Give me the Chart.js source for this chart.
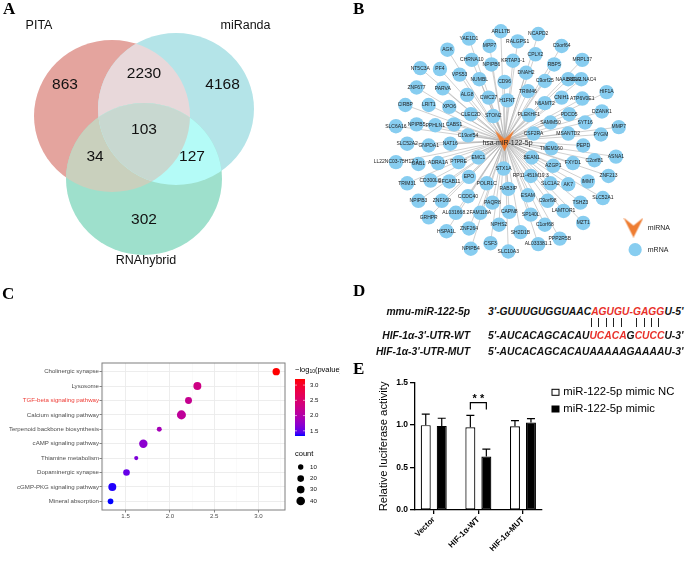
<!DOCTYPE html>
<html>
<head>
<meta charset="utf-8">
<script src="https://cdn.jsdelivr.net/npm/chart.js@4.4.1/dist/chart.umd.min.js"></script>
<style>
html,body{margin:0;padding:0;background:#fff;}
body{width:685px;height:563px;position:relative;overflow:hidden;font-family:'Liberation Sans',Arial,sans-serif;}
canvas{position:absolute;display:block;}
.pl{position:absolute;font-family:'Liberation Serif','Times New Roman',serif;font-weight:bold;font-size:17px;line-height:17px;color:#000;}
.seq{position:absolute;font-family:'Liberation Sans',Arial,sans-serif;font-weight:bold;font-style:italic;font-size:10.3px;line-height:12px;white-space:nowrap;color:#111;}
.red{color:#e8302a;}
.pc{position:relative;color:transparent;}
.pc i{position:absolute;left:1.5px;top:2px;width:0.9px;height:9px;background:#222;}
.tr{color:transparent;}
</style>
</head>
<body>
<canvas id="cA" width="340" height="280" style="left:0;top:0"></canvas>
<canvas id="cB" width="345" height="280" style="left:340px;top:0"></canvas>
<canvas id="cC" width="340" height="283" style="left:0;top:280px"></canvas>
<canvas id="cE" width="315" height="191" style="left:370px;top:372px"></canvas>
<div class="pl" style="left:3px;top:0">A</div>
<div class="pl" style="left:353px;top:0">B</div>
<div class="pl" style="left:2px;top:285px">C</div>
<div class="pl" style="left:353px;top:282px">D</div>
<div class="pl" style="left:353px;top:360px">E</div>
<div id="panelD"></div>
<script>
// ================= DATA =================
// Panel A: Venn
const vennSetNames = ['PITA', 'miRanda', 'RNAhybrid'];
const vennRegionKeys = ['100', '010', '001', '110', '101', '011', '111'];
const vennCounts = [863, 4168, 302, 2230, 34, 127, 103];

// Panel B: miRNA-mRNA network
const miRNAName = 'hsa-miR-122-5p';
const mRNANames = ['ARL17B','YAE1D1','MPP7','RALGPS1','NCAPD2','AGK','CHRNA10','NPIPB6','KRTAP3-1','CPLX2','C9orf64','MRPL37','RBP5','NT5C3A','PF4','VPS53','NUMBL','CD96','DNAH2','C9orf25','NAALADL2','B3GALNAC4','HIF1A','ZNF677','PARVA','ALG8','CWC27','H1FNT','TRIM46','CNIH1','ATP6V0E1','N6AMT2','DZANK1','CIRBP','LRIT1','XPO6','CLEC2D','STON2','PLEKHF1','PDCD5','SYT16','SAMM50','MMP7','SLC6A16','NPIPB5','PPHLN1','CABS1','C19orf54','CSF2RA','MSANTD2','PYGM','SLC52A2','GNPDA1','NAT16','TMEM160','PEPD','ASNA1','C2orf81','LL22NC03-75H12.2','GAB1','ADRA1A','PTPRE','EMC1','BEAN1','FXYD1','AZGP1','STX1A','ZNF213','TRIM31','CD300LG','EFCAB11','EPO','POLR1C','RP11-451M19.3','SLC1A2','AK7','IMMT','RAB3IP','SLC52A1','NPIPB3','ZNF169','CCDC40','ESAM','C9orf98','TSHZ3','PAQR8','LAMTOR1','CAPN8','AL031668.2','FAM118A','SP140L','GRHPR','C1orf68','MZT1','NPHS2','ZNF264','HSPA1L','SH2D1B','PPP2R5B','CSF3','NPIPB4','AL033381.1','SLC10A3'];
const mRNAX = [500,466,488,518,540,443,469,490,513,537,565,587,557,414,435,456,477,504,527,547,572,586,613,410,438,464,487,507,529,565,587,547,608,398,423,445,468,492,530,573,590,553,626,388,410,430,450,465,535,572,607,400,423,446,554,588,623,600,388,412,433,455,476,533,577,556,503,615,400,425,445,466,485,532,553,572,593,508,609,412,437,465,529,550,585,491,567,509,452,478,532,423,547,588,498,466,442,521,563,489,468,540,508];
const mRNAY = [22,30,38,33,25,42,53,58,54,47,38,53,58,62,63,69,74,77,67,76,74,74,88,83,84,91,94,97,87,94,95,100,109,102,102,104,112,114,113,112,121,121,126,125,123,124,123,135,133,133,134,144,146,144,149,146,158,162,164,166,165,164,159,159,165,168,171,179,187,184,185,180,187,179,187,188,185,193,203,206,206,201,200,206,208,208,217,218,219,219,221,224,232,230,232,236,239,240,247,252,258,253,261];
const miRNAX = [504];
const miRNAY = [141];

// Panel C: KEGG enrichment
const pathways = ['Cholinergic synapse','Lysosome','TGF-beta signaling pathway','Calcium signaling pathway','Terpenoid backbone biosynthesis','cAMP signaling pathway','Thiamine metabolism','Dopaminergic synapse','cGMP-PKG signaling pathway','Mineral absorption'];
const pathwayLogP = [3.20, 2.31, 2.21, 2.13, 1.88, 1.70, 1.62, 1.51, 1.35, 1.33];
const pathwayCount = [27, 33, 23, 45, 7, 38, 2, 20, 33, 12];
const highlightPathway = 'TGF-beta signaling pathway';
const xMajorTicksC = [1.5, 2.0, 2.5, 3.0];
const xMinorTicksC = [1.25, 1.75, 2.25, 2.75, 3.25];
const colorbarTicks = [3.0, 2.5, 2.0, 1.5];
const countLegend = [10, 20, 30, 40];

// Panel D: sequences
const seqLabels = ['mmu-miR-122-5p', "HIF-1\u03b1-3'-UTR-WT", "HIF-1\u03b1-3'-UTR-MUT"];
const seqTexts = ["3'-GUUUGUGGUAAC[AGUGU-GAGG]U-5'", "5'-AUCACAGCACAU[UCACA]G[CUCC]U-3'", "5'-AUCACAGCACAUAAAAAGAAAAU-3'"];
const pairMask = "               ||||| ||||     ";

// Panel E: luciferase
const groups = ['Vector', 'HIF-1\u03b1-WT', 'HIF-1\u03b1-MUT'];
const seriesNames = ['miR-122-5p mimic NC', 'miR-122-5p mimic'];
const ncMean = [1.00, 0.975, 0.987];
const ncSD = [0.129, 0.141, 0.067];
const mimicMean = [0.991, 0.631, 1.030];
const mimicSD = [0.090, 0.086, 0.047];
const sigGroup = 1;
const sigLabel = '* *';

// ================= STYLE / LAYOUT =================
const FONT = "'Liberation Sans', Arial, sans-serif";
Chart.defaults.font.family = FONT;
Chart.defaults.animation = false;

// Venn geometry (page px)
const vennCX = [112, 176, 144], vennCY = [116, 109, 179], vennRX = 78, vennRY = 76;
const vennColors = {'100':'#e4a49e','010':'#b4e4e8','001':'#9ee0cc','110':'#e8d8da','101':'#c9d0bd','011':'#b4fbf7','111':'#c8d8d0'};
const vennLabelX = [65, 222.6, 144, 144, 95, 192, 144];
const vennLabelY = [85, 85, 220, 74, 157, 157, 130];
const vennSetLabelX = [39, 245.5, 146], vennSetLabelY = [26, 26, 261];

// ================= PANEL A =================
const vennPlugin = {
  id: 'venn',
  beforeDatasetsDraw(chart) {
    const ctx = chart.ctx, xs = chart.scales.x, ys = chart.scales.y;
    const path = i => {
      const cx = xs.getPixelForValue(vennCX[i]), cy = ys.getPixelForValue(vennCY[i]);
      const rx = Math.abs(xs.getPixelForValue(vennCX[i] + vennRX) - cx);
      const ry = Math.abs(ys.getPixelForValue(vennCY[i] + vennRY) - cy);
      ctx.beginPath(); ctx.ellipse(cx, cy, rx, ry, 0, 0, Math.PI * 2);
    };
    const fillIn = (clips, i, color) => {
      ctx.save();
      clips.forEach(c => { path(c); ctx.clip(); });
      path(i); ctx.fillStyle = color; ctx.fill();
      ctx.restore();
    };
    fillIn([], 0, vennColors['100']);
    fillIn([], 1, vennColors['010']);
    fillIn([], 2, vennColors['001']);
    fillIn([0], 1, vennColors['110']);
    fillIn([0], 2, vennColors['101']);
    fillIn([1], 2, vennColors['011']);
    fillIn([0, 1], 2, vennColors['111']);
    ctx.save();
    ctx.fillStyle = '#111'; ctx.textAlign = 'center'; ctx.textBaseline = 'middle';
    ctx.font = '15.5px ' + FONT;
    vennCounts.forEach((c, i) => ctx.fillText(String(c), xs.getPixelForValue(vennLabelX[i]), ys.getPixelForValue(vennLabelY[i])));
    ctx.font = '12.5px ' + FONT;
    vennSetNames.forEach((n, i) => ctx.fillText(n, xs.getPixelForValue(vennSetLabelX[i]), ys.getPixelForValue(vennSetLabelY[i])));
    ctx.restore();
  }
};
new Chart(document.getElementById('cA'), {
  type: 'scatter',
  data: { datasets: [{ data: vennSetNames.map((n, i) => ({ x: vennCX[i], y: vennCY[i] })), pointRadius: 0 }] },
  options: {
    responsive: false, events: [],
    layout: { padding: 0 },
    plugins: { legend: { display: false }, tooltip: { enabled: false } },
    scales: { x: { type: 'linear', min: 0, max: 340, display: false }, y: { type: 'linear', min: 0, max: 280, reverse: true, display: false } }
  },
  plugins: [vennPlugin]
});

// ================= PANEL B =================
function makeChevron(w, h, color) {
  const c = document.createElement('canvas'); c.width = w; c.height = h;
  const g = c.getContext('2d'); g.fillStyle = color;
  g.beginPath(); g.moveTo(0, 0); g.lineTo(w / 2, h * 0.4); g.lineTo(w, 0); g.lineTo(w / 2, h); g.closePath(); g.fill();
  return c;
}
const ORANGE = '#ee7d32', NODE = '#87cdf0';
const chevronBig = makeChevron(19, 21, ORANGE);
const chevronLeg = makeChevron(20, 20, ORANGE);
const netPlugin = {
  id: 'net',
  beforeDatasetsDraw(chart) {
    const ctx = chart.ctx;
    const c = chart.getDatasetMeta(1).data[0];
    ctx.save(); ctx.strokeStyle = '#a8a8a8'; ctx.lineWidth = 0.55;
    chart.getDatasetMeta(0).data.forEach(p => { ctx.beginPath(); ctx.moveTo(c.x, c.y); ctx.lineTo(p.x, p.y); ctx.stroke(); });
    ctx.restore();
  },
  afterDatasetsDraw(chart) {
    const ctx = chart.ctx;
    ctx.save(); ctx.fillStyle = '#222'; ctx.textAlign = 'center'; ctx.textBaseline = 'middle';
    ctx.font = '5px ' + FONT;
    chart.getDatasetMeta(0).data.forEach((p, i) => ctx.fillText(mRNANames[i], p.x, p.y));
    const c = chart.getDatasetMeta(1).data[0];
    ctx.font = '7px ' + FONT;
    ctx.fillText(miRNAName, c.x + 3, c.y + 2.5);
    // legend
    const xs = chart.scales.x, ys = chart.scales.y;
    ctx.drawImage(chevronLeg, xs.getPixelForValue(641.7) - 10, ys.getPixelForValue(235) - 10);
    ctx.beginPath(); ctx.arc(xs.getPixelForValue(643.5), ys.getPixelForValue(259), 6.6, 0, Math.PI * 2); ctx.fillStyle = NODE; ctx.fill();
    ctx.fillStyle = '#222'; ctx.textAlign = 'left'; ctx.font = '7px ' + FONT;
    ctx.fillText('miRNA', xs.getPixelForValue(657), ys.getPixelForValue(236));
    ctx.fillText('mRNA', xs.getPixelForValue(657), ys.getPixelForValue(259.5));
    ctx.restore();
  }
};
new Chart(document.getElementById('cB'), {
  type: 'scatter',
  data: { datasets: [
    { data: mRNANames.map((n, i) => ({ x: mRNAX[i], y: mRNAY[i] })), pointRadius: 7.2, backgroundColor: NODE, borderWidth: 0 },
    { data: miRNAX.map((x, i) => ({ x: x, y: miRNAY[i] })), pointStyle: chevronBig, pointRadius: 10 }
  ] },
  options: {
    responsive: false, events: [],
    layout: { padding: 0 },
    plugins: { legend: { display: false }, tooltip: { enabled: false } },
    scales: { x: { type: 'linear', min: 340, max: 685, display: false }, y: { type: 'linear', min: 0, max: 280, reverse: true, display: false } }
  },
  plugins: [netPlugin]
});

// ================= PANEL C =================
function srgb2lin(c) { c /= 255; return c <= 0.04045 ? c / 12.92 : Math.pow((c + 0.055) / 1.055, 2.4); }
function lin2srgb(c) { c = c <= 0.0031308 ? 12.92 * c : 1.055 * Math.pow(c, 1 / 2.4) - 0.055; return Math.round(Math.max(0, Math.min(1, c)) * 255); }
const WP = [0.95047, 1, 1.08883];
function fL(t) { return t > 0.008856 ? Math.cbrt(t) : 7.787 * t + 16 / 116; }
function fLi(t) { const t3 = t * t * t; return t3 > 0.008856 ? t3 : (t - 16 / 116) / 7.787; }
function rgb2lab(rgb) {
  const [r, g, b] = rgb.map(srgb2lin);
  const X = (0.4124 * r + 0.3576 * g + 0.1805 * b) / WP[0], Y = (0.2126 * r + 0.7152 * g + 0.0722 * b) / WP[1], Z = (0.0193 * r + 0.1192 * g + 0.9505 * b) / WP[2];
  const fx = fL(X), fy = fL(Y), fz = fL(Z);
  return [116 * fy - 16, 500 * (fx - fy), 200 * (fy - fz)];
}
function lab2rgb([L, a, b]) {
  const fy = (L + 16) / 116, fx = fy + a / 500, fz = fy - b / 200;
  const X = WP[0] * fLi(fx), Y = WP[1] * fLi(fy), Z = WP[2] * fLi(fz);
  return [lin2srgb(3.2406 * X - 1.5372 * Y - 0.4986 * Z), lin2srgb(-0.9689 * X + 1.8758 * Y + 0.0415 * Z), lin2srgb(0.0557 * X - 0.2040 * Y + 1.0570 * Z)];
}
const LAB_LO = rgb2lab([0, 0, 255]), LAB_HI = rgb2lab([255, 0, 0]);
const cMin = Math.min(...pathwayLogP), cMax = Math.max(...pathwayLogP);
function gradColor(v) {
  const t = Math.max(0, Math.min(1, (v - cMin) / (cMax - cMin)));
  const c = lab2rgb(LAB_LO.map((l, i) => l + (LAB_HI[i] - l) * t));
  return 'rgb(' + c.join(',') + ')';
}
const sizeFor = c => Math.sqrt(3.57 + 0.373 * c);
const isMajor = v => xMajorTicksC.some(m => Math.abs(m - v) < 1e-6);
const AXC = '#4d4d4d';
const legendC = {
  id: 'legendC',
  afterDraw(chart) {
    const ctx = chart.ctx, ca = chart.chartArea;
    ctx.save();
    ctx.strokeStyle = '#7f7f7f'; ctx.lineWidth = 1;
    ctx.strokeRect(ca.left, ca.top, ca.right - ca.left, ca.bottom - ca.top);
    // title
    ctx.fillStyle = '#000'; ctx.textBaseline = 'middle'; ctx.textAlign = 'left';
    let x = 295, y = 90;
    ctx.font = '7.5px ' + FONT; ctx.fillText('\u2212log', x, y); let w = ctx.measureText('\u2212log').width;
    ctx.font = '5px ' + FONT; ctx.fillText('10', x + w, y + 2); w += ctx.measureText('10').width;
    ctx.font = '7.5px ' + FONT; ctx.fillText('(pvalue)', x + w, y);
    // colorbar
    const bx = 295, bw = 10, bTop = 99, bBot = 156;
    const grad = ctx.createLinearGradient(0, bBot, 0, bTop);
    for (let k = 0; k <= 20; k++) grad.addColorStop(k / 20, gradColor(cMin + (cMax - cMin) * k / 20));
    ctx.fillStyle = grad; ctx.fillRect(bx, bTop, bw, bBot - bTop);
    ctx.font = '6.1px ' + FONT; ctx.fillStyle = '#111';
    colorbarTicks.forEach(v => {
      const yy = bBot - (v - cMin) / (cMax - cMin) * (bBot - bTop);
      ctx.strokeStyle = '#fff'; ctx.lineWidth = 0.6;
      ctx.beginPath(); ctx.moveTo(bx, yy); ctx.lineTo(bx + 2, yy); ctx.moveTo(bx + bw - 2, yy); ctx.lineTo(bx + bw, yy); ctx.stroke();
      ctx.fillText(v.toFixed(1), 310, yy);
    });
    // count legend
    ctx.font = '7.5px ' + FONT; ctx.fillStyle = '#000';
    ctx.fillText('count', 295, 174);
    const ly = [187, 198.6, 209.6, 221];
    ctx.font = '6.1px ' + FONT;
    countLegend.forEach((c, i) => {
      ctx.beginPath(); ctx.arc(300.7, ly[i], sizeFor(c), 0, Math.PI * 2); ctx.fillStyle = '#000'; ctx.fill();
      ctx.fillStyle = '#111'; ctx.fillText(String(c), 310, ly[i]);
    });
    ctx.restore();
  }
};
new Chart(document.getElementById('cC'), {
  type: 'bubble',
  data: { datasets: [{
    data: pathways.map((p, i) => ({ x: pathwayLogP[i], y: i, r: sizeFor(pathwayCount[i]) })),
    backgroundColor: pathwayLogP.map(gradColor), borderWidth: 0
  }] },
  options: {
    responsive: false, events: [],
    layout: { padding: { left: 0, top: 83, right: 55, bottom: 33 } },
    plugins: { legend: { display: false }, tooltip: { enabled: false } },
    scales: {
      x: {
        type: 'linear', min: 1.2336, max: 3.299, offset: false,
        afterBuildTicks: s => { s.ticks = xMajorTicksC.concat(xMinorTicksC).sort((a, b) => a - b).map(v => ({ value: v })); },
        afterFit: s => { s.height = 20; },
        ticks: { autoSkip: false, maxRotation: 0, padding: 0, color: AXC, font: { size: 6.1 }, callback: v => isMajor(v) ? v.toFixed(1) : '' },
        grid: { offset: false, color: c => isMajor(c.tick.value) ? '#ebebeb' : '#f5f5f5', lineWidth: c => isMajor(c.tick.value) ? 0.9 : 0.5,
                tickColor: c => isMajor(c.tick.value) ? '#333' : 'rgba(0,0,0,0)', tickLength: 2.5, tickWidth: 0.6 },
        border: { display: false }
      },
      y: {
        type: 'linear', min: -0.6, max: 9.6, reverse: true, offset: false,
        afterBuildTicks: s => { s.ticks = pathways.map((p, i) => ({ value: i })); },
        afterFit: s => { s.width = 102; },
        ticks: { autoSkip: false, padding: 0.5, font: { size: 6.1 }, callback: v => pathways[v],
                 color: c => pathways[c.tick.value] === highlightPathway ? '#ee3b34' : AXC },
        grid: { color: '#ebebeb', lineWidth: 0.9, tickColor: '#333', tickLength: 2.5, tickWidth: 0.6 },
        border: { display: false }
      }
    }
  },
  plugins: [legendC]
});

// ================= PANEL D =================
(function () {
  const host = document.getElementById('panelD');
  const rowTop = [305.8, 329.8, 345.8];
  const fmt = s => s.replace(/\[([^\]]*)\]/g, '<span class="red">$1</span>');
  seqLabels.forEach((l, i) => {
    const a = document.createElement('div'); a.className = 'seq'; a.style.right = '215px'; a.style.top = rowTop[i] + 'px'; a.textContent = l; host.appendChild(a);
    const b = document.createElement('div'); b.className = 'seq'; b.style.left = '488px'; b.style.top = rowTop[i] + 'px'; b.innerHTML = fmt(seqTexts[i]); host.appendChild(b);
  });
  const plain = seqTexts[1].replace(/[\[\]]/g, '');
  const p = document.createElement('div'); p.className = 'seq'; p.style.left = '488px'; p.style.top = '316px';
  let html = '';
  for (let k = 0; k < plain.length; k++) {
    const ch = plain[k];
    html += pairMask[k] === '|' ? '<span class="pc">' + ch + '<i></i></span>' : '<span class="tr">' + ch + '</span>';
  }
  p.innerHTML = html; host.appendChild(p);
})();

// ================= PANEL E =================
const errPlugin = {
  id: 'err',
  afterDatasetsDraw(chart) {
    const ctx = chart.ctx, ys = chart.scales.y;
    ctx.save(); ctx.strokeStyle = '#000'; ctx.lineWidth = 1.2;
    [[ncMean, ncSD], [mimicMean, mimicSD]].forEach(([m, s], d) => {
      chart.getDatasetMeta(d).data.forEach((bar, i) => {
        const x = bar.x, y0 = ys.getPixelForValue(m[i]), y1 = ys.getPixelForValue(m[i] + s[i]);
        ctx.beginPath(); ctx.moveTo(x, y0); ctx.lineTo(x, y1); ctx.moveTo(x - 4, y1); ctx.lineTo(x + 4, y1); ctx.stroke();
      });
    });
    const a = chart.getDatasetMeta(0).data[sigGroup].x, b = chart.getDatasetMeta(1).data[sigGroup].x;
    const yb = ys.getPixelForValue(1.265), yl = ys.getPixelForValue(1.183);
    ctx.beginPath(); ctx.moveTo(a, yl); ctx.lineTo(a, yb); ctx.lineTo(b, yb); ctx.lineTo(b, yl); ctx.stroke();
    ctx.fillStyle = '#000'; ctx.font = 'bold 11px ' + FONT; ctx.textAlign = 'center'; ctx.textBaseline = 'alphabetic';
    ctx.fillText(sigLabel, (a + b) / 2, ys.getPixelForValue(1.351) + 6.4);
    // legend
    ctx.font = '11.3px ' + FONT; ctx.textAlign = 'left'; ctx.textBaseline = 'middle';
    const ly = [20.3, 37];
    chart.data.datasets.forEach((ds, i) => {
      ctx.fillStyle = ds.backgroundColor; ctx.fillRect(182, ly[i] - 3, 7, 6);
      ctx.lineWidth = 1; ctx.strokeStyle = '#000'; ctx.strokeRect(182, ly[i] - 3, 7, 6);
      ctx.fillStyle = '#000'; ctx.fillText(ds.label, 193.3, ly[i]);
    });
    ctx.restore();
  }
};
new Chart(document.getElementById('cE'), {
  type: 'bar',
  data: { datasets: [
    { label: seriesNames[0], data: groups.map((g, i) => ({ x: i, y: ncMean[i] })), backgroundColor: '#ffffff', borderColor: '#000', borderWidth: 1.2, borderSkipped: false },
    { label: seriesNames[1], data: groups.map((g, i) => ({ x: i, y: mimicMean[i] })), backgroundColor: '#000000', borderColor: '#000', borderWidth: 1.2, borderSkipped: false }
  ] },
  options: {
    responsive: false, events: [],
    categoryPercentage: 0.717, barPercentage: 0.625,
    layout: { padding: { left: 0, top: 10.7, right: 143.3, bottom: 8 } },
    plugins: { legend: { display: false }, tooltip: { enabled: false } },
    scales: {
      x: {
        type: 'linear', min: -0.42, max: 2.42, offset: false,
        afterBuildTicks: s => { s.ticks = groups.map((g, i) => ({ value: i })); },
        afterFit: s => { s.height = 45; },
        ticks: { autoSkip: false, minRotation: 45, maxRotation: 45, padding: 1, color: '#000', font: { size: 8, weight: 'bold' }, callback: v => groups[v] },
        grid: { offset: false, drawOnChartArea: false, tickLength: 4, color: '#000', lineWidth: 1.3 },
        border: { color: '#000', width: 1.3 }
      },
      y: {
        min: 0, max: 1.5,
        afterBuildTicks: s => { s.ticks = [0, 0.5, 1.0, 1.5].map(v => ({ value: v })); },
        afterFit: s => { s.width = 45; },
        ticks: { padding: 2, color: '#000', font: { size: 8.5, weight: 'bold' }, callback: v => v.toFixed(1) },
        grid: { drawOnChartArea: false, tickLength: 5, color: '#000', lineWidth: 1.3 },
        border: { color: '#000', width: 1.3 },
        title: { display: true, text: 'Relative luciferase activity', color: '#000', font: { size: 11.3 }, padding: { top: 6.7, bottom: 0 } }
      }
    }
  },
  plugins: [errPlugin]
});
</script>
</body>
</html>
